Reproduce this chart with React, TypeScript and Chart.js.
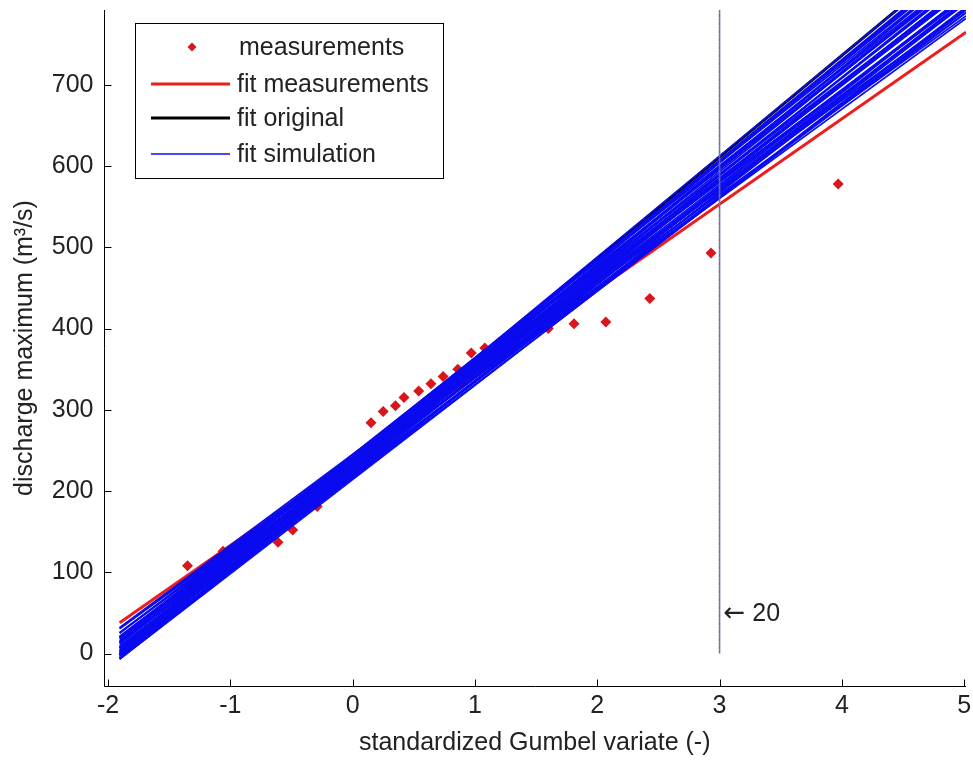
import React, { useEffect, useRef } from "react";
import { Chart, registerables } from "chart.js";

Chart.register(...registerables);

// ---- data ----
const X_TICKS = [-2, -1, 0, 1, 2, 3, 4, 5];
const Y_TICKS = [0, 100, 200, 300, 400, 500, 600, 700];
const X_MIN = -2.037;
const X_MAX = 5.015;
const Y_MIN = -40;
const Y_MAX = 792;

const MEAS_X = [-1.35, -1.06, -0.61, -0.49, -0.29, 0.15, 0.25, 0.35, 0.42, 0.54, 0.64, 0.74, 0.86, 0.97, 1.08, 1.6, 1.81, 2.07, 2.43, 2.93, 3.97];
const MEAS_Y = [108, 126, 137, 152, 181, 284, 298, 305, 315, 323, 332, 341, 350, 370, 376, 400, 406, 408, 437, 493, 578];

// fitted lines drawn over this reduced-variate range
const FIT_X = [-1.905, 5.015];
// [intercept, slope]
const FIT_MEASUREMENTS = [238, 105];
const FIT_ORIGINAL = [236, 125];
const SIM_INTERCEPTS = [214, 222, 230, 238, 245, 235, 228, 222, 232, 240, 228, 236, 242, 244, 226, 234, 218, 230, 239, 243, 224, 231, 237, 241, 227, 233, 219, 235, 245, 232, 238, 217, 216, 225, 241, 229, 236, 220, 240, 233, 226, 244, 231, 238, 223, 239.5];
const SIM_SLOPES = [116, 113, 110, 109, 112, 124, 123, 120, 117, 115, 118, 120, 118, 115, 115, 113, 118, 121, 122, 121, 117, 114, 111, 113, 112, 119, 116, 116, 118.5, 124, 123, 117, 115, 121, 110, 116, 118, 114, 119, 122, 119, 120, 118, 114, 116, 124.2];

const RETURN_X = 3;
const RETURN_Y = [0, 792];
const RETURN_ARROW = "\u2190";
const RETURN_LABEL = "20";
const RETURN_LABEL_Y = 48;

const LEGEND_LABELS = ["measurements", "fit measurements", "fit original", "fit simulation"];

const X_TITLE = "standardized Gumbel variate (-)";
const Y_TITLE = "discharge maximum (m\u00b3/s)";

// ---- styles ----
const FONT = "'Liberation Sans', Arial, Helvetica, sans-serif";
const RED_PT = "#d9161c";
const RED_LINE = "#ee1c1c";
const BLUE = "#0b0bf0";
const BLACK = "#000000";
const GREEN = "#2f9f7f";
const PURPLE = "#a445a8";
const TEXT = "#222222";

function lineFrom(p: number[]) {
  return FIT_X.map((x) => ({ x, y: p[0] + p[1] * x }));
}

const overlayPlugin = {
  id: "overlay",
  afterDraw(chart: any) {
    const { ctx, chartArea, scales } = chart;
    const xs = scales.x;
    const ys = scales.y;
    ctx.save();
    // axes
    ctx.strokeStyle = "#000";
    ctx.lineWidth = 1;
    ctx.beginPath();
    const left = Math.round(chartArea.left) + 0.5;
    const bottom = Math.round(chartArea.bottom) + 0.5;
    ctx.moveTo(left, chartArea.top);
    ctx.lineTo(left, bottom);
    ctx.lineTo(chartArea.right, bottom);
    // inward ticks
    X_TICKS.forEach((v) => {
      const px = Math.round(xs.getPixelForValue(v)) + 0.5;
      ctx.moveTo(px, bottom);
      ctx.lineTo(px, bottom - 7);
    });
    Y_TICKS.forEach((v) => {
      const py = Math.round(ys.getPixelForValue(v)) + 0.5;
      ctx.moveTo(left, py);
      ctx.lineTo(left + 7, py);
    });
    ctx.stroke();

    // annotation
    const ax = xs.getPixelForValue(RETURN_X) + 4;
    const ay = ys.getPixelForValue(RETURN_LABEL_Y);
    ctx.fillStyle = TEXT;
    ctx.textAlign = "left";
    ctx.textBaseline = "middle";
    ctx.font = `26px 'DejaVu Sans', sans-serif`;
    ctx.fillText(RETURN_ARROW, ax, ay);
    const aw = ctx.measureText(RETURN_ARROW).width;
    ctx.font = `25px ${FONT}`;
    ctx.fillText(RETURN_LABEL, ax + aw + 7, ay);

    // legend
    const L = chartArea.left + 31.5;
    const T = chartArea.top + 13;
    const W = 308;
    const H = 155;
    ctx.fillStyle = "#fff";
    ctx.fillRect(L, T, W, H);
    ctx.strokeStyle = "#000";
    ctx.lineWidth = 1;
    ctx.strokeRect(Math.round(L) + 0.5, Math.round(T) + 0.5, W, H);
    const rowY = [24, 61, 95, 131];
    const sx0 = L + 16;
    const sx1 = L + 95;
    const tx = L + 102;
    ctx.font = `25px ${FONT}`;
    ctx.textBaseline = "middle";
    ctx.textAlign = "left";
    LEGEND_LABELS.forEach((lab, i) => {
      const y = T + rowY[i];
      if (i === 0) {
        const cx = L + 57;
        ctx.fillStyle = RED_PT;
        ctx.beginPath();
        ctx.moveTo(cx, y - 4.5);
        ctx.lineTo(cx + 4.5, y);
        ctx.lineTo(cx, y + 4.5);
        ctx.lineTo(cx - 4.5, y);
        ctx.closePath();
        ctx.fill();
      } else {
        ctx.strokeStyle = i === 1 ? RED_LINE : i === 2 ? BLACK : BLUE;
        ctx.lineWidth = i === 3 ? 1.3 : 3;
        ctx.beginPath();
        ctx.moveTo(sx0, y);
        ctx.lineTo(sx1, y);
        ctx.stroke();
      }
      ctx.fillStyle = TEXT;
      ctx.fillText(lab, i === 0 ? tx + 2 : tx, y + 1);
    });
    ctx.restore();
  },
};

export default function App() {
  const ref = useRef<HTMLCanvasElement | null>(null);

  useEffect(() => {
    if (!ref.current) return;
    const simSets = SIM_INTERCEPTS.map((a, i) => ({
      label: "fit simulation " + (i + 1),
      data: lineFrom([a, SIM_SLOPES[i]]),
      showLine: true,
      borderColor: BLUE,
      borderWidth: 1.7,
      pointRadius: 0,
      order: 2,
    }));
    const chart = new Chart(ref.current, {
      type: "scatter",
      data: {
        datasets: [
          {
            label: "return period 20",
            data: RETURN_Y.map((y) => ({ x: RETURN_X, y })),
            showLine: true,
            borderColor: PURPLE,
            borderWidth: 1.6,
            borderDash: [4, 4],
            borderDashOffset: 4,
            pointRadius: 0,
            order: 0,
          } as any,
          {
            label: "return period 20 (b)",
            data: RETURN_Y.map((y) => ({ x: RETURN_X, y })),
            showLine: true,
            borderColor: GREEN,
            borderWidth: 1.6,
            borderDash: [4, 4],
            pointRadius: 0,
            order: 1,
          },
          ...simSets,
          {
            label: "fit original",
            data: lineFrom(FIT_ORIGINAL),
            showLine: true,
            borderColor: BLACK,
            borderWidth: 3,
            pointRadius: 0,
            order: 3,
          },
          {
            label: "fit measurements",
            data: lineFrom(FIT_MEASUREMENTS),
            showLine: true,
            borderColor: RED_LINE,
            borderWidth: 3,
            pointRadius: 0,
            order: 4,
          },
          {
            label: "measurements",
            data: MEAS_X.map((x, i) => ({ x, y: MEAS_Y[i] })),
            showLine: false,
            pointStyle: "rectRot",
            pointRadius: 5.5,
            backgroundColor: RED_PT,
            borderColor: RED_PT,
            borderWidth: 0,
            order: 5,
          },
        ],
      },
      options: {
        animation: false,
        responsive: false,
        devicePixelRatio: 1,
        layout: { padding: { top: 10, right: 7, left: 0, bottom: 0 } },
        plugins: { legend: { display: false }, tooltip: { enabled: false } },
        scales: {
          x: {
            type: "linear",
            min: X_MIN,
            max: X_MAX,
            grid: { display: false, drawTicks: false },
            border: { display: false },
            afterBuildTicks: (s: any) => {
              s.ticks = X_TICKS.map((v) => ({ value: v }));
            },
            afterFit: (s: any) => {
              s.height = 76;
              s.paddingLeft = 0;
              s.paddingRight = 0;
            },
            ticks: {
              color: TEXT,
              font: { family: FONT, size: 25 },
              padding: 5,
              maxRotation: 0,
              autoSkip: false,
              callback: (v: any) => String(v),
            },
            title: {
              display: true,
              text: X_TITLE,
              color: TEXT,
              font: { family: FONT, size: 25 },
              padding: { top: 0, bottom: 4 },
            },
          },
          y: {
            type: "linear",
            min: Y_MIN,
            max: Y_MAX,
            grid: { display: false, drawTicks: false },
            border: { display: false },
            afterBuildTicks: (s: any) => {
              s.ticks = Y_TICKS.map((v) => ({ value: v }));
            },
            afterFit: (s: any) => {
              s.width = 103.5;
              s.paddingTop = 0;
              s.paddingBottom = 0;
            },
            ticks: {
              color: TEXT,
              font: { family: FONT, size: 25 },
              padding: 10,
              autoSkip: false,
              callback: (v: any) => String(v),
            },
            title: {
              display: true,
              text: Y_TITLE,
              color: TEXT,
              font: { family: FONT, size: 25 },
              padding: { top: 10, bottom: 0 },
            },
          },
        },
      },
      plugins: [overlayPlugin],
    } as any);
    return () => chart.destroy();
  }, []);

  return (
    <div style={{ position: "fixed", left: 0, top: 0, width: 973, height: 762, background: "#fff" }}>
      <canvas ref={ref} width={973} height={762} style={{ display: "block" }} />
    </div>
  );
}
